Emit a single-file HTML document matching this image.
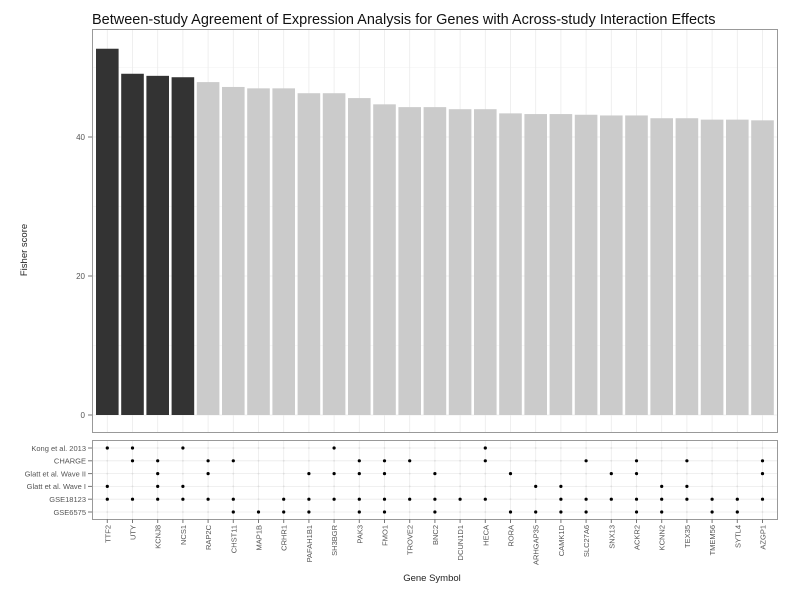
<!DOCTYPE html>
<html><head><meta charset="utf-8"><style>body{margin:0;background:#fff}svg{display:block}text{font-family:"Liberation Sans",sans-serif}</style></head>
<body>
<svg id="s" width="800" height="590" xmlns="http://www.w3.org/2000/svg">
<text x="92" y="24" font-size="14.5" fill="#111">Between-study Agreement of Expression Analysis for Genes with Across-study Interaction Effects</text>
<rect x="92.5" y="29.5" width="685" height="403" fill="#fff" stroke="#999"/>
<rect x="92.5" y="440.5" width="685" height="79" fill="#fff" stroke="#999"/>
<g id="g"></g>
<text transform="translate(27,250) rotate(-90)" font-size="9.5" fill="#222" text-anchor="middle">Fisher score</text>
<text x="432" y="581" font-size="9.5" fill="#222" text-anchor="middle">Gene Symbol</text>
</svg>
<script>
var genes=["TTF2","UTY","KCNJ8","NCS1","RAP2C","CHST11","MAP1B","CRHR1","PAFAH1B1","SH3BGR","PAK3","FMO1","TROVE2","BNC2","DCUN1D1","HECA","RORA","ARHGAP35","CAMK1D","SLC27A6","SNX13","ACKR2","KCNN2","TEX35","TMEM56","SYTL4","AZGP1"];
var vals=[52.7,49.1,48.8,48.6,47.9,47.2,47.0,47.0,46.3,46.3,45.6,44.7,44.3,44.3,44.0,44.0,43.4,43.3,43.3,43.2,43.1,43.1,42.7,42.7,42.5,42.5,42.4];
var rows=[["Kong et al. 2013",[0,1,3,9,15]],["CHARGE",[1,2,4,5,10,11,12,15,19,21,23,26]],["Glatt et al. Wave II",[2,4,8,9,10,11,13,16,20,21,26]],["Glatt et al. Wave I",[0,2,3,17,18,22,23]],["GSE18123",[0,1,2,3,4,5,7,8,9,10,11,12,13,14,15,18,19,20,21,22,23,24,25,26]],["GSE6575",[5,6,7,8,10,11,13,16,17,18,19,21,22,24,25]]];
var h="";function X(i){return 107.3+i*25.2}
var y0=415,sc=6.95;
[[0,415],[20,276],[40,137]].forEach(function(t){h+='<line x1="93" x2="777" y1="'+t[1]+'" y2="'+t[1]+'" stroke="#ebebeb" stroke-width="0.8"/>';h+='<text x="85" y="'+(t[1]+3)+'" font-size="8" fill="#555" text-anchor="end">'+t[0]+'</text><line x1="88" x2="92" y1="'+t[1]+'" y2="'+t[1]+'" stroke="#777"/>'});
[10,30,50].forEach(function(v){var y=y0-v*sc;h+='<line x1="93" x2="777" y1="'+y+'" y2="'+y+'" stroke="#f2f2f2" stroke-width="0.6"/>'});
genes.forEach(function(g,i){var x=X(i);h+='<line x1="'+x+'" x2="'+x+'" y1="30" y2="432" stroke="#ebebeb" stroke-width="0.8"/>';h+='<line x1="'+x+'" x2="'+x+'" y1="441" y2="519" stroke="#ebebeb" stroke-width="0.8"/>'});
genes.forEach(function(g,i){var x=X(i),t=y0-vals[i]*sc;h+='<rect x="'+(x-11.3)+'" y="'+t+'" width="22.6" height="'+(y0-t)+'" fill="'+(i<4?'#333':'#cbcbcb')+'"/>';
h+='<line x1="'+x+'" x2="'+x+'" y1="519" y2="523" stroke="#777"/><text transform="translate('+(x+3)+',525) rotate(-90)" font-size="7.5" fill="#555" text-anchor="end">'+g+'</text>'});
rows.forEach(function(r,k){var y=448+k*12.8;h+='<line x1="93" x2="777" y1="'+y+'" y2="'+y+'" stroke="#ebebeb" stroke-width="0.8"/>';
genes.forEach(function(g,i){if(r[1].indexOf(i)<0)h+='<circle cx="'+X(i)+'" cy="'+y+'" r="0.9" fill="#ddd"/>'});
r[1].forEach(function(i){h+='<circle cx="'+X(i)+'" cy="'+y+'" r="1.6" fill="#000"/>'});
h+='<text x="86" y="'+(y+2.8)+'" font-size="7.5" fill="#555" text-anchor="end">'+r[0]+'</text><line x1="88" x2="92" y1="'+y+'" y2="'+y+'" stroke="#777"/>'});
document.getElementById("g").innerHTML=h;
</script>
</body></html>
